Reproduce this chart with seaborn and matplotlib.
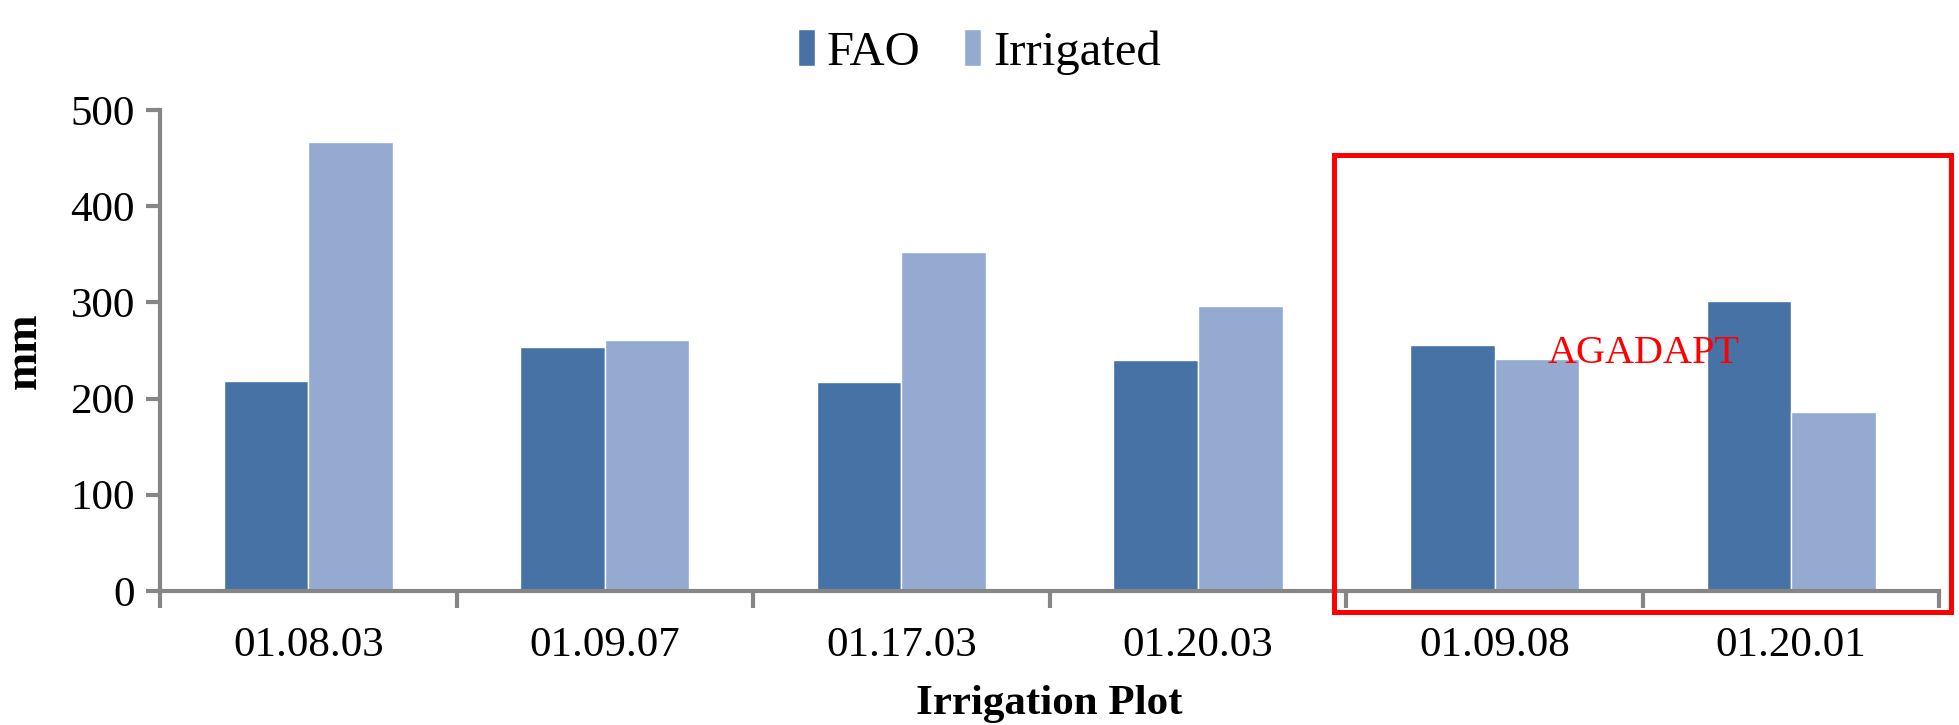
import numpy as np
import pandas as pd
import matplotlib
matplotlib.use("Agg")
import matplotlib.pyplot as plt
import seaborn as sns
from matplotlib.patches import Rectangle

plots = ["01.08.03", "01.09.07", "01.17.03", "01.20.03", "01.09.08", "01.20.01"]
fao = [218, 254, 217, 240, 256, 302]
irrigated = [467, 261, 352, 296, 241, 186]
series = ["FAO", "Irrigated"]
colors = ["#4672A6", "#95AAD0"]

df = pd.DataFrame({
    "plot": plots * 2,
    "mm": fao + irrigated,
    "series": [series[0]] * len(plots) + [series[1]] * len(plots),
})

sns.set_style("white")
plt.rcParams["font.family"] = ["Liberation Serif", "DejaVu Serif"]
plt.rcParams["text.color"] = "black"
plt.rcParams["axes.labelcolor"] = "black"
plt.rcParams["xtick.color"] = "black"
plt.rcParams["ytick.color"] = "black"

fig = plt.figure(figsize=(19.59, 7.25), dpi=100)
ax = fig.add_axes([0.0817, 0.185, 0.9083, 0.663])

sns.barplot(data=df, x="plot", y="mm", hue="series", palette=colors,
            width=0.57, saturation=1, ax=ax, legend=True)

ax.set_xlim(-0.5, len(plots) - 0.5)
ax.set_ylim(0, 500)
ax.set_yticks([0, 100, 200, 300, 400, 500])
ax.tick_params(axis="y", left=True, labelsize=31, length=10, width=3,
               color="#868686", labelcolor="black", pad=8)
ax.tick_params(axis="x", which="major", bottom=True, labelsize=31, length=0,
               labelcolor="black", pad=26)
ax.set_xticks(np.arange(-0.5, len(plots), 1.0), minor=True)
ax.tick_params(axis="x", which="minor", bottom=True, length=12, width=3,
               color="#868686")

for s in ["top", "right"]:
    ax.spines[s].set_visible(False)
for s in ["left", "bottom"]:
    ax.spines[s].set_color("#868686")
    ax.spines[s].set_linewidth(3)

ax.set_xlabel("Irrigation Plot", fontsize=31, fontweight="bold", labelpad=14)
ax.set_ylabel("mm", fontsize=33, fontweight="bold", labelpad=18)

handles, labels = ax.get_legend_handles_labels()
ax.legend_.remove()
fig.legend(handles, labels, loc="upper center", bbox_to_anchor=(0.5, 1.02),
           ncol=2, frameon=False, fontsize=35, handlelength=0.35,
           handleheight=0.8, handletextpad=0.25, columnspacing=0.9)

# highlight box around the AGADAPT plots
fig.patches.append(Rectangle((0.681, 0.156), 0.315, 0.630, transform=fig.transFigure,
                             fill=False, edgecolor="#FF0000", linewidth=3.6))
fig.text(0.839, 0.513, "AGADAPT", color="#FF0000", fontsize=29,
         ha="center", va="center")

fig.savefig("out.png", dpi=100)
